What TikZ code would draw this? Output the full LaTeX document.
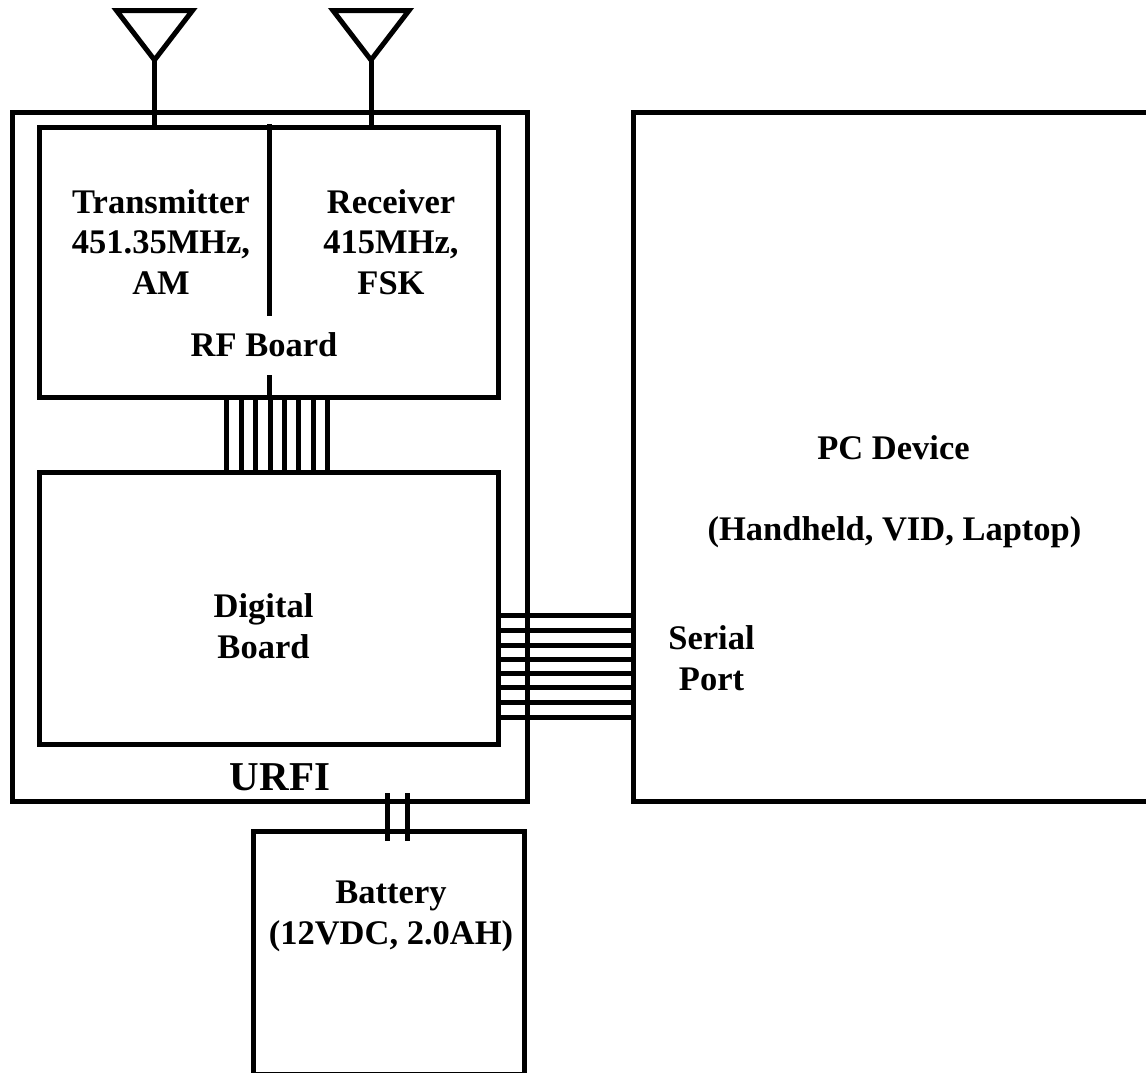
\documentclass[tikz,border=0pt]{standalone}
\usepackage{fontspec}
\setmainfont{Liberation Serif}
\usetikzlibrary{positioning}
\tikzset{
  every picture/.style={line width=5pt, x=1pt, y=-1pt},
  board/.style={draw=black, rectangle, inner sep=0pt, line width=5pt},
  wire/.style={draw=black, line width=5pt},
  lbl/.style={align=center, inner sep=0pt, font=\bfseries\fontsize{34.5}{40.5}\selectfont},
}
\begin{document}
\begin{tikzpicture}
  \useasboundingbox (0,0) rectangle (1146,1072);
  % boxes
  \node[board, minimum width=515pt, minimum height=689pt] (urfi) at (269.5,456.5) {};
  \node[board, minimum width=459pt, minimum height=270pt] (rf) at (268.5,262) {};
  \node[board, minimum width=459pt, minimum height=272pt] (dig) at (268.5,608) {};
  \node[board, minimum width=534pt, minimum height=689pt] (pc) at (900,456.5) {};
  \node[board, minimum width=271pt, minimum height=242.5pt] (batt) at (388.5,952.75) {};
  % antennas
  \coordinate (ant1) at (154.5,60);
  \coordinate (ant2) at (371,60);
  \foreach \a in {ant1,ant2}
    \draw[wire, line join=miter] ([xshift=-38pt,yshift=49.5pt]\a) -- ([xshift=38pt,yshift=49.5pt]\a) -- (\a) -- cycle;
  \foreach \a in {ant1,ant2} \draw[wire] (\a) -- (\a |- rf.north);
  % rf divider
  \coordinate (divtop) at (269.5,124);
  \coordinate (divend) at (269.5,316);
  \coordinate (stub) at (269.5,375);
  \draw[wire] (divtop) -- (divend);
  \draw[wire] (stub) -- (stub |- rf.south);
  % buses
  \foreach \x in {226.3,241.3,255.3,270.3,284.7,298.7,313.3,327.3}
    \draw[wire] (\x,0 |- rf.south) -- (\x,0 |- dig.north);
  \foreach \y in {615.7,630.3,645.3,659.3,673.3,687.3,702.3,717}
    \draw[wire] (dig.east |- 0,\y) -- (pc.west |- 0,\y);
  \foreach \x in {387.3,407.3}
    \draw[wire] ([yshift=10.5pt]\x,0 |- urfi.south) -- ([yshift=-12pt]\x,0 |- batt.north);
  % labels
  \node[lbl] (tx) at (161,242) {Transmitter\\451.35MHz,\\AM};
  \node[lbl] (rx) at (391,242) {Receiver\\415MHz,\\FSK};
  \node[lbl] (rfl) at (264,345) {RF Board};
  \node[lbl] (digl) at (263.5,626) {Digital\\Board};
  \node[lbl] (pcl) at (893.5,448) {PC Device};
  \node[lbl] (pcn) at (894.5,532) {(Handheld, VID, Laptop)};
  \node[lbl] (ser) at (711.5,658) {Serial\\Port};
  \node[lbl, font=\bfseries\fontsize{41}{48}\selectfont] (urfil) at (280,777) {URFI};
  \node[lbl] (battl) at (391,916.5) {Battery\\(12VDC, 2.0AH)};
\end{tikzpicture}
\end{document}
